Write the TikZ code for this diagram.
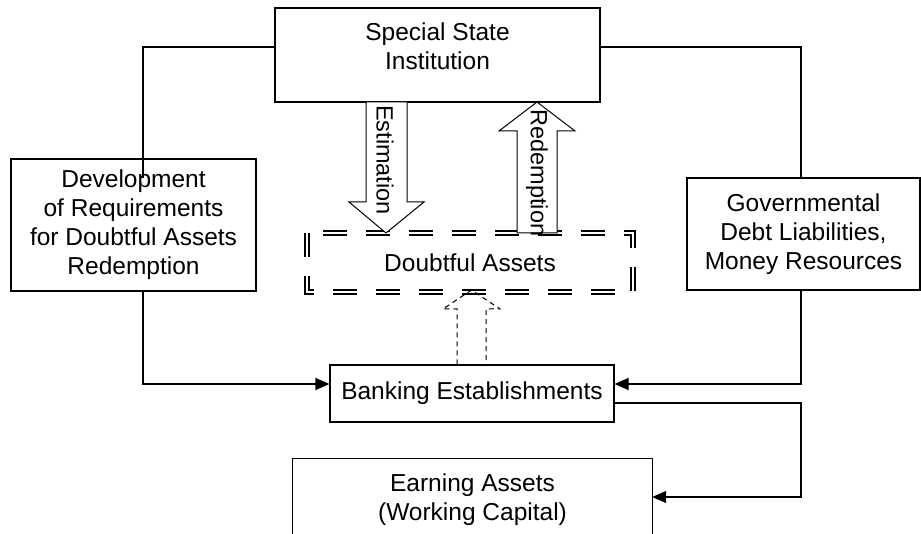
\documentclass[tikz,border=0pt]{standalone}
\usepackage{fontspec}
\setmainfont{Liberation Sans}
\usetikzlibrary{arrows.meta}
\begin{document}
\begin{tikzpicture}[x=1pt,y=-1pt,
  box/.style={draw, line width=1.1pt, inner sep=0pt, align=center, font=\fontsize{24.5}{29}\selectfont},
  txt/.style={inner sep=0pt, align=center, font=\fontsize{24.5}{29}\selectfont},
  rtxt/.style={inner sep=0pt, rotate=-90, font=\fontsize{23.5}{28}\selectfont},
  conn/.style={line width=1.1pt},
  arr/.style={conn, -{Triangle[length=14pt,width=12pt]}},
  bigarrow/.style={draw, line width=1pt, fill=white, line join=miter},
  dasharrow/.style={draw, line width=1pt, dash pattern=on 5pt off 4pt},
  dbl/.style={draw, double, line width=2pt, double distance=1.6pt, dash pattern=on 24pt off 19pt}]
\useasboundingbox (0,0) rectangle (921,534);

% boxes
\node[box, minimum width=325, minimum height=94] (ssi) at (437.5,55) {};
\node[txt] (ssit) at (437.5,46) {Special State\\Institution};
\node[box, minimum width=245, minimum height=132] (dev) at (133.5,225) {Development\\of Requirements\\for Doubtful Assets\\Redemption};
\node[box, minimum width=233, minimum height=112] (gov) at (803.5,234) {Governmental\\Debt Liabilities,\\Money Resources};
\node[box, minimum width=284, minimum height=57] (ban) at (472,393.5) {Banking Establishments};
\node[txt, minimum width=359, minimum height=82] (earn) at (472.5,500) {Earning Assets\\(Working Capital)};
\draw[line width=1.1pt] (earn.south west) -- (earn.north west) -- (earn.north east) -- (earn.south east);

% doubtful assets (double dashed)
\node[txt, minimum width=326, minimum height=59] (doubt) at (470,262.5) {Doubtful Assets};
\draw[dbl] (doubt.north west) rectangle (doubt.south east);

% big arrows
\draw[bigarrow] (366,102) -- (366,202) -- (349,202) -- (386,233) -- (424,202) -- (407,202) -- (407,102) -- cycle;
\node[rtxt] (est) at (385,160) {Estimation};
\draw[bigarrow] (517,233) -- (517,131) -- (499,131) -- (537,102) -- (575,131) -- (557,131) -- (557,233) -- cycle;
\node[rtxt] (red) at (537,173) {Redemption};
\draw[dasharrow] (ban.north -| 457,0) -- (457,309) -- (443,309) -- (471.5,290) -- (500,309) -- (486,309) -- (ban.north -| 486,0);

% connectors
\coordinate (l1) at (143,47);
\coordinate (r1) at (801,47);
\coordinate (bl) at ([yshift=9.5pt]ban.west);
\coordinate (br) at ([yshift=9.5pt]ban.east);
\coordinate (bo) at ([yshift=-9.5pt]ban.east);
\coordinate (ea) at ([yshift=3pt]earn.east);
\draw[conn] (ssi.west |- l1) -- (l1) -- (143,178);
\draw[arr] (l1 |- dev.south) -- (l1 |- bl) -- (bl);
\draw[conn] (ssi.east |- r1) -- (r1) -- (r1 |- gov.north);
\draw[arr] (r1 |- gov.south) -- (r1 |- br) -- (br);
\draw[arr] (bo) -- (r1 |- bo) -- (r1 |- ea) -- (ea);
\end{tikzpicture}
\end{document}
